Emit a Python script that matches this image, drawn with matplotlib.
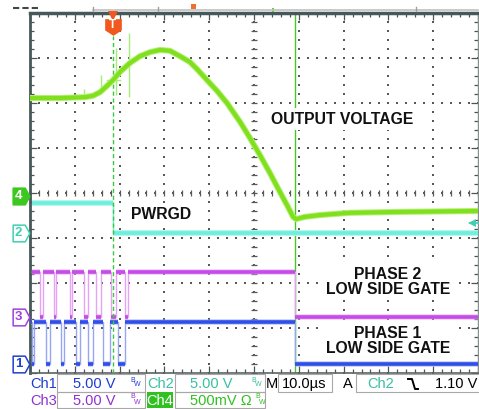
import numpy as np
import matplotlib.pyplot as plt
from matplotlib.path import Path
from matplotlib.lines import Line2D
from matplotlib.patches import Rectangle
import matplotlib.transforms as mtransforms

plt.rcParams['font.family'] = ['Liberation Sans', 'DejaVu Sans']

# screen: 10 div x 10 us (time in us), 8 div vertically (levels in divisions from bottom)
out_t = [0.45, 6.70, 12.28, 14.06, 15.63, 17.19, 18.53, 20.09, 22.32, 24.55, 26.79,
         29.02, 31.25, 33.48, 35.71, 37.50, 39.51, 41.74, 43.97, 46.88, 49.11, 51.34,
         53.57, 55.80, 57.59, 58.71, 59.38, 61.38, 64.73, 71.43, 82.59, 100.0]
out_v = [6.11, 6.11, 6.13, 6.16, 6.24, 6.38, 6.51, 6.69, 6.89, 7.04, 7.13,
         7.18, 7.16, 7.04, 6.91, 6.73, 6.51, 6.27, 6.00, 5.58, 5.22, 4.84,
         4.44, 4.02, 3.69, 3.47, 3.42, 3.47, 3.51, 3.56, 3.58, 3.60]

# switching glitches coupled onto the output trace
spike_t = [12.05, 15.85, 19.20, 22.10]
spike_lo = [6.13, 6.22, 6.18, 6.13]
spike_hi = [6.31, 6.62, 7.22, 7.56]

trig_t = 18.5
gate_off_t = 59.2

pwrgd_hi, pwrgd_lo = 3.78, 3.11
ph2_hi, ph2_lo = 2.24, 1.24
ph1_hi, ph1_lo = 1.13, 0.20
ph2_low = [(2.23, 2.90), (5.36, 5.80), (8.93, 9.38), (12.05, 12.95),
           (14.73, 15.85), (18.08, 19.20), (21.21, 21.88)]
ph1_low = [(0.35, 1.00), (3.57, 4.46), (6.92, 7.59), (10.27, 11.16),
           (12.95, 14.06), (16.29, 17.86), (19.64, 21.21)]

trig_level = 3.33
markers = [("4", 3.93), ("2", pwrgd_lo), ("3", ph2_lo), ("1", ph1_lo)]

C_OUT, C_OUT_HALO = '#80e01e', '#b6f07a'
C_PG, C_PG_HALO = '#6eeedc', '#b0f6ec'
C_PH2, C_PH2_EDGE = '#c64ce8', '#e6a2f4'
C_PH1, C_PH1_EDGE = '#2f4fe8', '#98a6f2'


def gate_wave(pulses, hi, lo, t0, off_t, t_end=100.0):
    t, v = [t0], [hi]
    for a, b in pulses:
        t += [a, a, b, b]
        v += [hi, lo, lo, hi]
    t += [off_t, off_t, t_end]
    v += [hi, lo, lo]
    return np.array(t), np.array(v)


def draw_gate(ax, t, v, col, edge_col):
    ax.plot(t, v, color=edge_col, lw=1.0, zorder=4)
    flat = [(t[i], t[i + 1], v[i]) for i in range(len(t) - 1) if v[i] == v[i + 1]]
    for a, b, y in flat:
        ax.plot([a, b], [y, y], color=edge_col, lw=4.0, solid_capstyle='butt', zorder=5, alpha=0.6)
        ax.plot([a, b], [y, y], color=col, lw=2.6, solid_capstyle='butt', zorder=5)


W, H = 479, 409
fig = plt.figure(figsize=(W / 100, H / 100), dpi=100)
fig.patch.set_facecolor('white')
ax = fig.add_axes([30 / W, 36 / H, 448 / W, 360 / H])
ax.set_xlim(0, 100)
ax.set_ylim(0, 8)

# graticule
gcol = '#585858'
dots_v = np.arange(0, 8.01, 0.2)
dots_t = np.arange(0, 100.1, 2)
for i in range(1, 10):
    ax.plot(np.full_like(dots_v, i * 10), dots_v, ls='none', marker='s', ms=1.5, mew=0, color=gcol, zorder=1)
for j in range(1, 8):
    ax.plot(dots_t, np.full_like(dots_t, j), ls='none', marker='s', ms=1.5, mew=0, color=gcol, zorder=1)
ax.plot(dots_t, np.full_like(dots_t, 4), ls='none', marker='|', ms=4.5, mew=0.9, color=gcol, zorder=1)
ax.plot(np.full_like(dots_v, 50), dots_v, ls='none', marker='_', ms=4.5, mew=0.9, color=gcol, zorder=1)

ax.set_xticks(np.arange(0, 101, 10))
ax.set_xticks(np.arange(0, 101, 2), minor=True)
ax.set_yticks(np.arange(0, 9, 1))
ax.set_yticks(np.arange(0, 8.01, 0.2), minor=True)
ax.tick_params(which='both', direction='in', top=True, right=True,
               labelbottom=False, labelleft=False, color='#4a5454', width=0.9)
ax.tick_params(which='major', length=5)
ax.tick_params(which='minor', length=2.8)
ax.spines['top'].set(color='#46585a', lw=2.5)
ax.spines['left'].set(color='#46585a', lw=2.0)
ax.spines['bottom'].set(color='#5a6464', lw=1.2)
ax.spines['right'].set(color='#8a9090', lw=1.0)

# cursor at gate turn-off and trigger position
ax.axvline(gate_off_t, color='#44c824', lw=1.0, zorder=2)
ax.plot([trig_t, trig_t], [0, 7.5], color='#3cc83c', lw=1.0, ls=(0, (3, 2)), zorder=6)

# traces
t1, v1 = gate_wave(ph1_low, ph1_hi, ph1_lo, 0.2, gate_off_t)
t3, v3 = gate_wave(ph2_low, ph2_hi, ph2_lo, 0.45, gate_off_t)
draw_gate(ax, t3, v3, C_PH2, C_PH2_EDGE)
draw_gate(ax, t1, v1, C_PH1, C_PH1_EDGE)

for col, lw in ((C_PG_HALO, 4.2), (C_PG, 2.6)):
    ax.plot([0.45, trig_t], [pwrgd_hi, pwrgd_hi], color=col, lw=lw, solid_capstyle='butt', zorder=5)
    ax.plot([trig_t, 100], [pwrgd_lo, pwrgd_lo], color=col, lw=lw, solid_capstyle='butt', zorder=5)
ax.plot([trig_t, trig_t], [pwrgd_hi, pwrgd_lo], color=C_PG, lw=1.0, zorder=5)

ax.vlines(spike_t, spike_lo, spike_hi, color='#a8ec78', lw=1.0, zorder=6)
ax.plot([17.2, 20.1], [6.51, 6.51], color='#a8ec78', lw=1.0, zorder=7)
ax.plot(out_t, out_v, color=C_OUT_HALO, lw=4.4, solid_joinstyle='round', zorder=7)
ax.plot(out_t, out_v, color=C_OUT, lw=3.0, solid_joinstyle='round', zorder=7)

# trigger marker
shield = Path([(-1, 1), (1, 1), (1, -0.35), (0, -1), (-1, -0.35), (-1, 1)],
              [Path.MOVETO] + [Path.LINETO] * 4 + [Path.CLOSEPOLY])
ax.plot([trig_t], [7.70], marker=shield, ms=12, color='#f0581e', mew=0, zorder=8, clip_on=False)
ax.text(trig_t, 7.73, 'T', color='white', fontsize=8.5, fontweight='bold',
        ha='center', va='center', zorder=9)
ax.plot([trig_t], [7.94], marker='v', ms=6.5, color='#f0581e', mew=0, zorder=8, clip_on=False)

# channel ground markers on the left
tr_left = mtransforms.blended_transform_factory(ax.transAxes, ax.transData)
arrow_box = Path([(-1, -1), (0.45, -1), (1, 0), (0.45, 1), (-1, 1), (-1, -1)],
                 [Path.MOVETO] + [Path.LINETO] * 4 + [Path.CLOSEPOLY])
mk_style = {"4": ('#3cc81e', '#3cc81e', 'white'), "2": ('white', '#40d0b0', '#40d0b0'),
            "3": ('white', '#a040e0', '#a040e0'), "1": ('white', '#2040d0', '#2040d0')}
for lab, lvl in markers:
    fc, ec, tc = mk_style[lab]
    ax.plot([-9.5 / 448], [lvl], marker=arrow_box, ms=12, mfc=fc, mec=ec, mew=1.1,
            transform=tr_left, clip_on=False, zorder=8)
    ax.text(-11.5 / 448, lvl, lab, transform=tr_left, color=tc, fontsize=9.5,
            fontweight='bold', ha='center', va='center', zorder=9)

# trigger level indicator on the right
ax.plot([(470 - 30) / 448, 1.0], [trig_level, trig_level], color='#40d0b0', lw=1.2,
        transform=tr_left, clip_on=False, zorder=8)
ax.plot([(472 - 30) / 448], [trig_level], marker='<', ms=6, color='#40d0b0', mew=0,
        transform=tr_left, clip_on=False, zorder=8)

# annotations
lab_kw = dict(fontsize=11.3, fontweight='bold', color='#111111', ha='center', va='center',
              zorder=10, bbox=dict(facecolor='white', edgecolor='none', pad=2.5))
ax.text(69.6, 5.64, 'OUTPUT VOLTAGE', **lab_kw)
ax.text(29.2, 3.53, 'PWRGD', **lab_kw)
ax.text(79.9, 2.03, 'PHASE 2\nLOW SIDE GATE', linespacing=1.0, multialignment='center', **lab_kw)
ax.text(79.9, 0.71, 'PHASE 1\nLOW SIDE GATE', linespacing=1.0, multialignment='center', **lab_kw)


# header strip and status bar (figure pixel coordinates)
def fx(x):
    return x / W


def fy(y):
    return 1 - y / H


fig.add_artist(Line2D([fx(93), fx(478)], [fy(10), fy(10)], color='#c0c0c0', lw=1.2))
for xx in (93, 158, 416):
    fig.add_artist(Line2D([fx(xx), fx(xx)], [fy(7), fy(11)], color='#a0a0a0', lw=1))
fig.add_artist(Rectangle((fx(191), fy(9)), 5 / W, 5 / H, color='#f07030', lw=0))
fig.add_artist(Rectangle((fx(272), fy(12)), 2 / W, 4 / H, color='#60d040', lw=0))
fig.add_artist(Line2D([fx(13), fx(38)], [fy(8), fy(8)], color='#404848', lw=1.5, ls=(0, (3, 1.5))))

C1, C2, C3, C4 = '#1c3cd0', '#38c0a0', '#9030d0', '#30c020'
ts = 10.5
r1, r2 = 384, 401


def stext(x, y, s, col, ha='left', size=ts):
    fig.text(fx(x), fy(y), s, color=col, fontsize=size, ha=ha, va='center')


def bw(x, y, col):
    fig.text(fx(x), fy(y - 4), 'B', color=col, fontsize=5, ha='left', va='center')
    fig.text(fx(x + 4), fy(y + 1), 'W', color=col, fontsize=5, ha='left', va='center')


def box(x0, y0, x1, y1):
    fig.add_artist(Rectangle((fx(x0), fy(y1)), (x1 - x0) / W, (y1 - y0) / H,
                             fill=False, ec='#a8a8a8', lw=0.8))


for b in [(57, 374, 145, 392), (175, 374, 265, 392), (278, 374, 332, 392), (356, 374, 480, 392),
          (57, 392, 145, 408), (175, 392, 265, 408)]:
    box(*b)

stext(30, r1, 'Ch1', C1)
stext(73, r1, '5.00 V', C1)
bw(130, r1, C1)
stext(147, r1, 'Ch2', C2)
stext(190, r1, '5.00 V', C2)
bw(251, r1, C2)
stext(266, r1, 'M', 'black')
stext(282, r1, '10.0\u00b5s', 'black')
stext(343, r1, 'A', 'black')
stext(367, r1, 'Ch2', C2)
fig.add_artist(Line2D([fx(408), fx(412), fx(415), fx(418)], [fy(379), fy(379), fy(389), fy(389)],
                      color='black', lw=1.4))
stext(477, r1, '1.10 V', 'black', ha='right')

stext(30, r2, 'Ch3', C3)
stext(73, r2, '5.00 V', C3)
bw(130, r2, C3)
fig.add_artist(Rectangle((fx(147), fy(408)), 26 / W, 16 / H, color=C4, lw=0))
fig.text(fx(160), fy(r2), 'Ch4', color='white', fontsize=ts, ha='center', va='center')
stext(190, r2, '500mV \u03a9', C4)
bw(255, r2, C4)

fig.savefig('out.png', dpi=100, facecolor='white')
